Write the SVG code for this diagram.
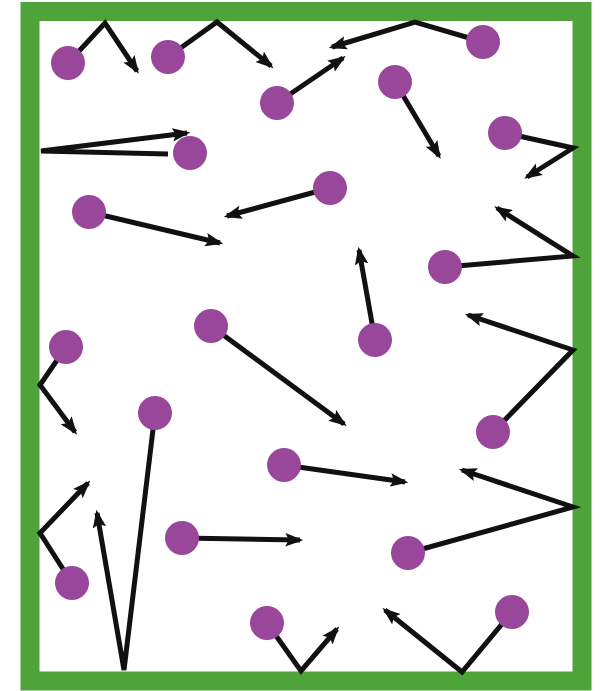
<svg xmlns="http://www.w3.org/2000/svg" width="600" height="691" viewBox="0 0 600 691">
<style>
.wall{fill:none;stroke:#4ea339;stroke-width:19}
.path{fill:none;stroke:#111;stroke-width:5;stroke-linejoin:miter;stroke-linecap:butt;marker-end:url(#head)}
.dot{fill:#98479b}
</style>
<defs>
<marker id="head" viewBox="0 0 16 12" refX="13" refY="6" markerWidth="18" markerHeight="14" markerUnits="userSpaceOnUse" orient="auto">
<path d="M0,0 L16,6 L0,12 L3,6 z" fill="#111"/>
</marker>
</defs>
<rect x="0" y="0" width="600" height="691" fill="#fff"/>
<rect id="box" class="wall" x="30" y="11.5" width="552" height="669.5"/>
<g id="connectors">
<polyline class="path" points="68,63 105,23 137,71"/>
<polyline class="path" points="168,57 217,22 271,66"/>
<polyline class="path" points="277,103 343,58"/>
<polyline class="path" points="483,42 415,22 332,47"/>
<polyline class="path" points="395,82 439,156"/>
<polyline class="path" points="505,133 573,148 527,177"/>
<polyline class="path" points="168,154 41,151 187,133"/>
<polyline class="path" points="330,188 227,216"/>
<polyline class="path" points="89,212 220,243"/>
<polyline class="path" points="445,267 573,256 497,208"/>
<polyline class="path" points="375,340 359,250"/>
<polyline class="path" points="493,432 573,350 468,315"/>
<polyline class="path" points="211,326 344,424"/>
<polyline class="path" points="66,347 40,385 75,432"/>
<polyline class="path" points="155,413 124,670 97,513"/>
<polyline class="path" points="284,465 405,482"/>
<polyline class="path" points="408,553 573,507 462,470"/>
<polyline class="path" points="182,538 300,540"/>
<polyline class="path" points="72,583 40,533 88,483"/>
<polyline class="path" points="267,623 301,671 337,629"/>
<polyline class="path" points="512,612 462,672 385,610"/>
</g>
<g id="p1"><circle class="dot" cx="68" cy="63" r="17"/></g>
<g id="p2"><circle class="dot" cx="168" cy="57" r="17"/></g>
<g id="p3"><circle class="dot" cx="277" cy="103" r="17"/></g>
<g id="p4"><circle class="dot" cx="190" cy="153" r="17"/></g>
<g id="p5"><circle class="dot" cx="89" cy="212" r="17"/></g>
<g id="p6"><circle class="dot" cx="483" cy="42" r="17"/></g>
<g id="p7"><circle class="dot" cx="395" cy="82" r="17"/></g>
<g id="p8"><circle class="dot" cx="505" cy="133" r="17"/></g>
<g id="p9"><circle class="dot" cx="330" cy="188" r="17"/></g>
<g id="p10"><circle class="dot" cx="66" cy="347" r="17"/></g>
<g id="p11"><circle class="dot" cx="211" cy="326" r="17"/></g>
<g id="p12"><circle class="dot" cx="155" cy="413" r="17"/></g>
<g id="p13"><circle class="dot" cx="445" cy="267" r="17"/></g>
<g id="p14"><circle class="dot" cx="375" cy="340" r="17"/></g>
<g id="p15"><circle class="dot" cx="493" cy="432" r="17"/></g>
<g id="p16"><circle class="dot" cx="284" cy="465" r="17"/></g>
<g id="p17"><circle class="dot" cx="182" cy="538" r="17"/></g>
<g id="p18"><circle class="dot" cx="72" cy="583" r="17"/></g>
<g id="p19"><circle class="dot" cx="267" cy="623" r="17"/></g>
<g id="p20"><circle class="dot" cx="408" cy="553" r="17"/></g>
<g id="p21"><circle class="dot" cx="512" cy="612" r="17"/></g>
</svg>
